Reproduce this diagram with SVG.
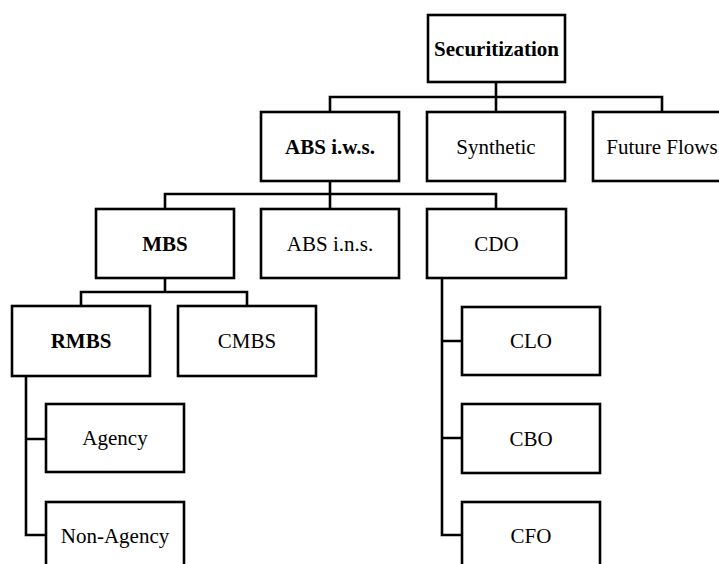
<svg xmlns="http://www.w3.org/2000/svg" width="719" height="564" viewBox="0 0 719 564">
<style>
.box{fill:#fff;stroke:#000;stroke-width:2.6}
text{font-family:'Liberation Serif','Times New Roman',Times,serif;font-size:21px;text-anchor:middle;fill:#000}
.b{font-weight:bold}
.c{fill:none;stroke:#000;stroke-width:2.6;stroke-linecap:square}
</style>
<rect width="719" height="564" fill="#fff"/>
<g id="connectors">
<path class="c" d="M496 82V97M330 97H662M330 97V112M496 97V112M662 97V112"/>
<path class="c" d="M330 180V194M165 194H496M165 194V209M330 194V209M496 194V209"/>
<path class="c" d="M165 278V292M81 292H247M81 292V306M247 292V306"/>
<path class="c" d="M26 376V535M26 439H46M26 535H46"/>
<path class="c" d="M442 278V535M442 341H462M442 438H462M442 535H462"/>
</g>
<g id="securitization"><rect class="box" x="428" y="15" width="137" height="67"/><text class="b" x="496.5" y="55.5" font-family="Liberation Serif, serif">Securitization</text></g>
<g id="abs-iws"><rect class="box" x="261" y="112" width="138" height="69"/><text class="b" x="330" y="153.5" font-family="Liberation Serif, serif">ABS i.w.s.</text></g>
<g id="synthetic"><rect class="box" x="427" y="112" width="138" height="69"/><text x="496" y="153.5" font-family="Liberation Serif, serif">Synthetic</text></g>
<g id="future-flows"><rect class="box" x="593" y="112" width="138" height="69"/><text x="662" y="153.5" font-family="Liberation Serif, serif">Future Flows</text></g>
<g id="mbs"><rect class="box" x="96" y="209" width="138" height="69"/><text class="b" x="165" y="250.5" font-family="Liberation Serif, serif">MBS</text></g>
<g id="abs-ins"><rect class="box" x="261" y="209" width="138" height="69"/><text x="330" y="250.5" font-family="Liberation Serif, serif">ABS i.n.s.</text></g>
<g id="cdo"><rect class="box" x="427" y="209" width="139" height="69"/><text x="496.5" y="250.5" font-family="Liberation Serif, serif">CDO</text></g>
<g id="rmbs"><rect class="box" x="12" y="306" width="138" height="70"/><text class="b" x="81" y="348" font-family="Liberation Serif, serif">RMBS</text></g>
<g id="cmbs"><rect class="box" x="178" y="306" width="138" height="70"/><text x="247" y="348" font-family="Liberation Serif, serif">CMBS</text></g>
<g id="clo"><rect class="box" x="462" y="307" width="138" height="68"/><text x="531" y="348" font-family="Liberation Serif, serif">CLO</text></g>
<g id="agency"><rect class="box" x="46" y="404" width="138" height="68"/><text x="115" y="445" font-family="Liberation Serif, serif">Agency</text></g>
<g id="cbo"><rect class="box" x="462" y="404" width="138" height="69"/><text x="531" y="445.5" font-family="Liberation Serif, serif">CBO</text></g>
<g id="non-agency"><rect class="box" x="46" y="502" width="138" height="69"/><text x="115" y="543" font-family="Liberation Serif, serif">Non-Agency</text></g>
<g id="cfo"><rect class="box" x="462" y="502" width="138" height="69"/><text x="531" y="543" font-family="Liberation Serif, serif">CFO</text></g>
</svg>
